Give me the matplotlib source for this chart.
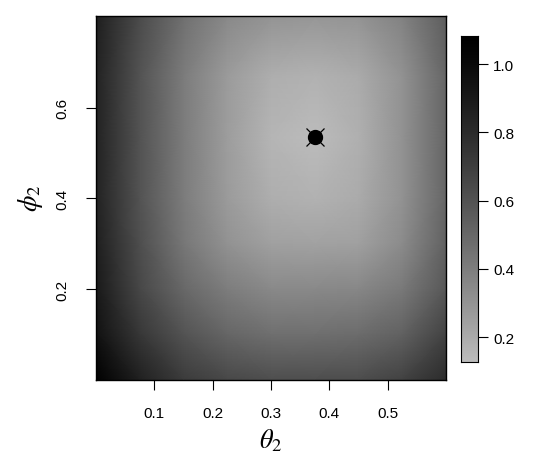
import numpy as np
import matplotlib
matplotlib.use("Agg")
import matplotlib.pyplot as plt
from matplotlib.colors import LinearSegmentedColormap

plt.rcParams['font.family'] = ['Liberation Sans', 'DejaVu Sans']
plt.rcParams['mathtext.fontset'] = 'stix'

# grid nodes
theta2 = [0.0, 0.075, 0.15, 0.225, 0.3, 0.375, 0.45, 0.525, 0.6]
phi2 = [0.0, 0.1, 0.2, 0.3, 0.4, 0.535, 0.67, 0.8]
# estimated surface values, rows = phi2 (bottom -> top), cols = theta2
z_y000 = [1.08, 0.86, 0.72, 0.65, 0.62, 0.62, 0.63, 0.68, 0.80]
z_y010 = [0.95, 0.74, 0.60, 0.51, 0.47, 0.47, 0.48, 0.53, 0.68]
z_y020 = [0.90, 0.66, 0.50, 0.40, 0.35, 0.35, 0.36, 0.42, 0.58]
z_y030 = [0.87, 0.62, 0.43, 0.31, 0.25, 0.24, 0.25, 0.34, 0.53]
z_y040 = [0.85, 0.60, 0.41, 0.27, 0.19, 0.17, 0.20, 0.31, 0.51]
z_y0535 = [0.85, 0.60, 0.41, 0.26, 0.16, 0.127, 0.18, 0.31, 0.51]
z_y067 = [0.85, 0.60, 0.41, 0.27, 0.19, 0.17, 0.20, 0.31, 0.51]
z_y080 = [0.87, 0.64, 0.46, 0.35, 0.30, 0.29, 0.30, 0.38, 0.55]

best_theta = [0.375]
best_phi = [0.535]

xticks = [0.1, 0.2, 0.3, 0.4, 0.5]
yticks = [0.2, 0.4, 0.6]
cticks = [0.2, 0.4, 0.6, 0.8, 1.0]
vmin, vmax = 0.127, 1.082

Z = np.array([z_y000, z_y010, z_y020, z_y030, z_y040, z_y0535, z_y067, z_y080])

# grey ramp: light grey at low values, black at high values (slightly gamma-shaped)
_s = np.linspace(0, 1, 64)
_g = (188.0 / 255.0) * _s ** 1.2
cmap = LinearSegmentedColormap.from_list('g', [(g, g, g) for g in _g[::-1]])

fig = plt.figure(figsize=(5.52, 4.77), dpi=100)
ax = fig.add_axes([0.174, 0.2023, 0.634, 0.7621])
X, Y = np.meshgrid(theta2, phi2)
ax.pcolormesh(X, Y, Z, shading='gouraud', cmap=cmap, vmin=vmin, vmax=vmax)
ax.set_xlim(0, 0.6)
ax.set_ylim(0, 0.803)
ax.plot(best_theta, best_phi, 'o', color='black', ms=10, zorder=5)
ax.plot(best_theta, best_phi, 'x', color='black', ms=13, mew=0.9, zorder=6)

ax.set_xticks(xticks)
ax.set_xticklabels([f"{t:.1f}" for t in xticks])
ax.set_yticks(yticks)
ax.set_yticklabels([f"{t:.1f}" for t in yticks], rotation=90, va='center')
ax.tick_params(axis='both', length=7, width=0.8, labelsize=11, pad=12, color='black')
for s in ax.spines.values():
    s.set_linewidth(1.0)
ax.set_xlabel(r'$\theta_2$', fontsize=19, labelpad=5)
ax.set_ylabel(r'$\phi_2$', fontsize=19, labelpad=8)

cax = fig.add_axes([0.835, 0.239, 0.031, 0.683])
gradient = np.linspace(vmin, vmax, 256).reshape(-1, 1)
cax.imshow(gradient, aspect='auto', cmap=cmap, vmin=vmin, vmax=vmax,
           origin='lower', extent=[0, 1, vmin, vmax])
cax.set_xticks([])
cax.yaxis.tick_right()
cax.set_yticks(cticks)
cax.set_yticklabels([f"{t:.1f}" for t in cticks])
cax.tick_params(axis='y', length=7, width=0.8, labelsize=11, pad=4)
cax.set_ylim(vmin, vmax)

fig.savefig('out.png', dpi=100)
